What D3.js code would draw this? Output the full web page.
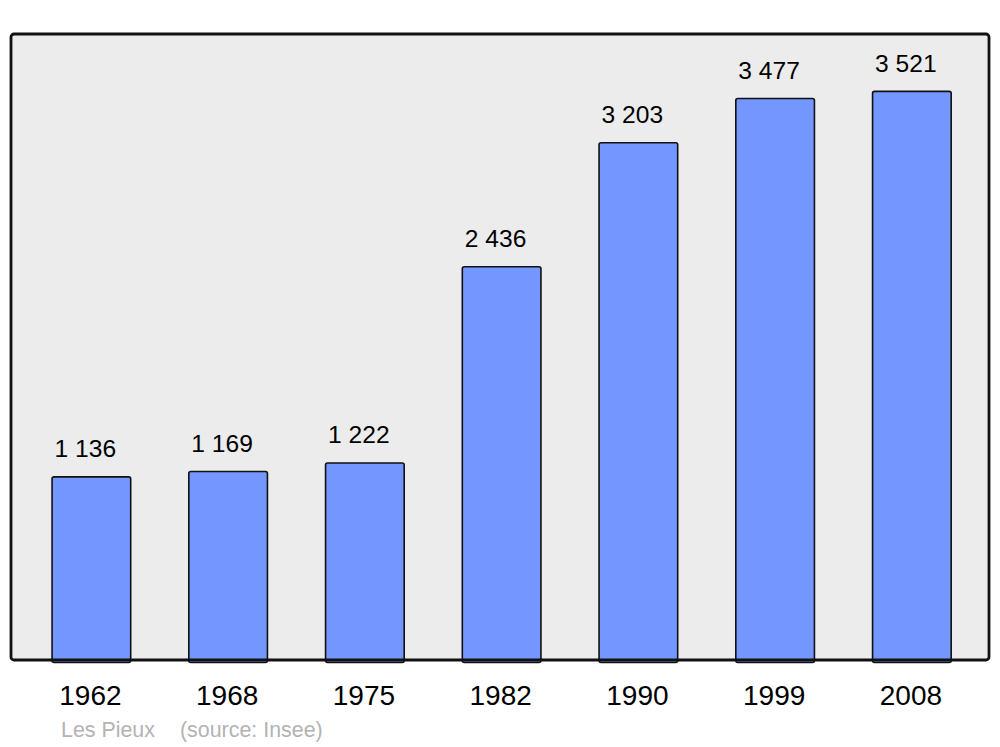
<!DOCTYPE html>
<html>
<head>
<meta charset="utf-8">
<script src="https://cdn.jsdelivr.net/npm/d3@7"></script>
<style>
html,body{margin:0;padding:0;background:#fff;}
svg{display:block;font-family:"Liberation Sans",Arial,sans-serif;}
</style>
</head>
<body>
<svg id="chart" width="1000" height="747"></svg>
<script>
const years = ["1962","1968","1975","1982","1990","1999","2008"];
const population = [1136,1169,1222,2436,3203,3477,3521];
const valueLabels = ["1 136","1 169","1 222","2 436","3 203","3 477","3 521"];
const footerName = "Les Pieux";
const footerSource = "(source: Insee)";

const svg = d3.select("#chart");
const frame = {x0: 11, x1: 989, y0: 34, y1: 660};

svg.append("rect")
  .attr("x", frame.x0).attr("y", frame.y0)
  .attr("width", frame.x1 - frame.x0).attr("height", frame.y1 - frame.y0)
  .attr("rx", 3).attr("ry", 3)
  .attr("fill", "#ececec");

const x = d3.scaleBand().domain(years).range([23, 980.25])
  .paddingInner(0.425).paddingOuter(0.2125);
const y = d3.scaleLinear().domain([0, d3.max(population) * 1.1]).range([frame.y1, frame.y0]);

const data = years.map((yr, i) => ({yr, v: population[i], lbl: valueLabels[i]}));

svg.append("g").selectAll("rect").data(data).join("rect")
  .attr("x", d => x(d.yr)).attr("y", d => y(d.v) + 0.5)
  .attr("width", x.bandwidth()).attr("height", d => y(0) - y(d.v) + 2)
  .attr("rx", 2).attr("ry", 2)
  .attr("fill", "#7396ff").attr("stroke", "#111").attr("stroke-width", 1.6);

svg.append("g").selectAll("text").data(data).join("text")
  .attr("x", d => x(d.yr) + x.bandwidth() / 2 - 6)
  .attr("y", d => y(d.v) - 19)
  .attr("text-anchor", "middle")
  .attr("font-size", 24.6).attr("fill", "#000")
  .text(d => d.lbl);

// frame border on top
svg.append("rect")
  .attr("x", frame.x0).attr("y", frame.y0)
  .attr("width", frame.x1 - frame.x0).attr("height", frame.y1 - frame.y0)
  .attr("rx", 3).attr("ry", 3)
  .attr("fill", "none").attr("stroke", "#111").attr("stroke-width", 2.8);

// x axis labels
const xAxis = d3.axisBottom(x).tickSize(0).tickPadding(0);
const gx = svg.append("g").attr("transform", `translate(-1,${frame.y1})`).call(xAxis);
gx.select(".domain").remove();
gx.selectAll("text")
  .attr("y", 45).attr("dy", null)
  .attr("font-size", 28).attr("fill", "#000")
  .attr("font-family", "Liberation Sans, Arial, sans-serif");

svg.append("text").attr("x", 61).attr("y", 737)
  .attr("font-size", 21.4).attr("fill", "#b3b3b3").text(footerName);
svg.append("text").attr("x", 180).attr("y", 737)
  .attr("font-size", 21.4).attr("fill", "#b3b3b3").text(footerSource);
</script>
</body>
</html>
